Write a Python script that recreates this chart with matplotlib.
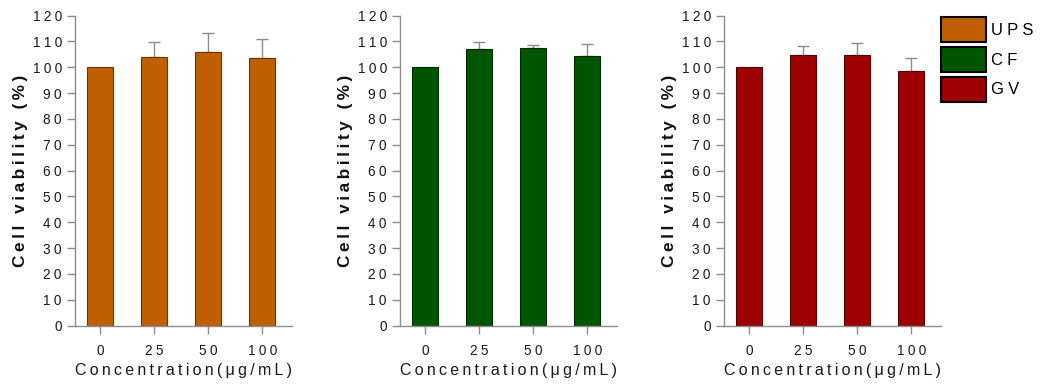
import matplotlib
matplotlib.use("Agg")
import matplotlib.pyplot as plt
from matplotlib.patches import Patch
import numpy as np

plt.rcParams['font.family'] = ['Liberation Sans', 'DejaVu Sans']

categories = ['0', '25', '50', '100']
series_names = ['UPS', 'CF', 'GV']
ups_mean = [100.0, 103.9, 105.8, 103.4]
ups_err = [0.0, 5.8, 7.5, 7.7]
cf_mean = [100.0, 107.0, 107.5, 104.4]
cf_err = [0.0, 2.7, 1.0, 4.6]
gv_mean = [100.0, 104.8, 104.8, 98.5]
gv_err = [0.0, 3.5, 4.4, 5.0]
y_ticks = [0, 10, 20, 30, 40, 50, 60, 70, 80, 90, 100, 110, 120]

colors = ['#BF5F00', '#005500', '#9E0000']
edges = ['#6b3500', '#002a00', '#500000']

def spaced(s, sp='\u2009'):
    return sp.join(list(s))

fig = plt.figure(figsize=(10.42, 3.88), dpi=100)
lefts = [75 / 1042, 400 / 1042, 724 / 1042]
width = 217 / 1042
bottom = 0.161
height = 0.799

means = [ups_mean, cf_mean, gv_mean]
errs = [ups_err, cf_err, gv_err]
grey = '#8c8c8c'
axes = []
for i in range(3):
    ax = fig.add_axes([lefts[i], bottom, width, height])
    axes.append(ax)
    x = np.arange(len(categories))
    ax.bar(x, means[i], width=0.48, color=colors[i], edgecolor=edges[i],
           linewidth=0.8, zorder=2)
    m = np.array(means[i]); e = np.array(errs[i])
    sel = e > 0
    ax.errorbar(x[sel], m[sel], yerr=[np.zeros(sel.sum()), e[sel]], fmt='none',
                ecolor=grey, elinewidth=1.0, capsize=4.5, capthick=1.0, zorder=1)
    ax.set_xlim(-0.47, 3.55)
    ax.set_ylim(0, 120)
    ax.set_yticks(y_ticks)
    ax.set_yticklabels([spaced(str(t), '\u2005') for t in y_ticks])
    ax.set_xticks(x)
    ax.set_xticklabels([spaced(c, '\u2005') for c in categories])
    for s in ['top', 'right']:
        ax.spines[s].set_visible(False)
    for s in ['left', 'bottom']:
        ax.spines[s].set_color(grey)
        ax.spines[s].set_linewidth(1.0)
    ax.tick_params(axis='y', length=5.5, width=1.0, color=grey, labelsize=9.8,
                   labelcolor='#1a1a1a', pad=4)
    ax.tick_params(axis='x', length=5.5, width=1.0, color=grey, labelsize=9.8,
                   labelcolor='#1a1a1a', pad=7.5)
    ax.set_xlabel(spaced('Concentration(μg/mL)'), fontsize=11.5, color='#1a1a1a',
                  labelpad=4)
    ax.set_ylabel(spaced('Cell viability (%)'), fontsize=12.4, fontweight='bold',
                  color='#111111', labelpad=3.5)

handles = [Patch(facecolor=colors[k], edgecolor='black', linewidth=1.5)
           for k in range(3)]
fig.legend(handles, [spaced(n, '\u2005') for n in series_names],
           loc='upper left', bbox_to_anchor=(941 / 1042, 1 - 17.5 / 388),
           frameon=False, fontsize=12, handlelength=2.7, handleheight=1.9,
           labelspacing=0.3, handletextpad=0.3, borderpad=0, borderaxespad=0)

fig.savefig('out.png', dpi=100)
